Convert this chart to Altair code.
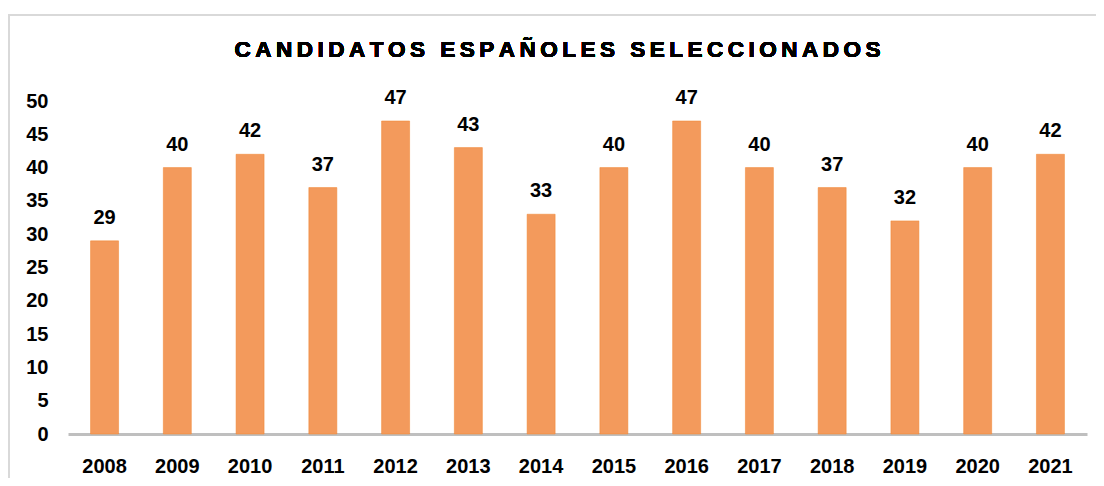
import altair as alt
import pandas as pd

years = ["2008", "2009", "2010", "2011", "2012", "2013", "2014",
         "2015", "2016", "2017", "2018", "2019", "2020", "2021"]
values = [29, 40, 42, 37, 47, 43, 33, 40, 47, 40, 37, 32, 40, 42]
y_ticks = [0, 5, 10, 15, 20, 25, 30, 35, 40, 45, 50]
title_words = ["CANDIDATOS", "ESPAÑOLES", "SELECCIONADOS"]

df = pd.DataFrame({"year": years, "value": values})

FONT = "Liberation Sans Narrow, Arial Narrow, Liberation Sans, Arial"
W, H = 1019, 333

# letter-spaced title (thin spaces between characters)
spaced_title = "\u2009 \u2009".join("\u2009".join(list(w)) for w in title_words)

x_enc = alt.X("year:N", sort=years,
              scale=alt.Scale(paddingInner=0.615, paddingOuter=0.31),
              axis=alt.Axis(title=None, labelAngle=0, labelFont=FONT, labelFontSize=20,
                            labelFontWeight="bold", labelColor="#000000", labelPadding=22,
                            ticks=False, domainColor="#BFBFBF", domainWidth=3))
y_enc = alt.Y("value:Q",
              scale=alt.Scale(domain=[0, 50], nice=False),
              axis=alt.Axis(title=None, values=y_ticks, grid=False, ticks=False, domain=False,
                            labelOverlap=False, labelFlush=False,
                            labelFont=FONT, labelFontSize=20, labelFontWeight="bold",
                            labelColor="#000000", labelPadding=20))

base = alt.Chart(df)

bars = base.mark_bar(color="#F39A5C", stroke="#F0842F", strokeWidth=0.5).encode(x=x_enc, y=y_enc)

labels = base.mark_text(font=FONT, fontSize=20, fontWeight="bold", color="#000000",
                        baseline="alphabetic", dy=-17).encode(
    x=x_enc, y=y_enc, text=alt.Text("value:Q"))

title = base.mark_text(font=FONT, fontSize=22.5, fontWeight="bold", color="#000000",
                       baseline="middle", align="center", text=spaced_title).encode(
    x=alt.value(489.5), y=alt.value(-51))

border_v = base.mark_rule(color="#D9D9D9", strokeWidth=2).encode(
    x=alt.value(-59), y=alt.value(-87), y2=alt.value(H + 60))
border_h = base.mark_rule(color="#D9D9D9", strokeWidth=2).encode(
    x=alt.value(-60), x2=alt.value(W + 40), y=alt.value(-86))

chart = alt.layer(border_v, border_h, bars, labels, title).properties(
    width=W, height=H,
    autosize=alt.AutoSizeParams(type="none"),
    padding={"left": 60, "top": 93, "right": 9, "bottom": 44},
).configure_view(stroke=None)

chart.save("out.html", embed_options={"renderer": "svg", "actions": False})
